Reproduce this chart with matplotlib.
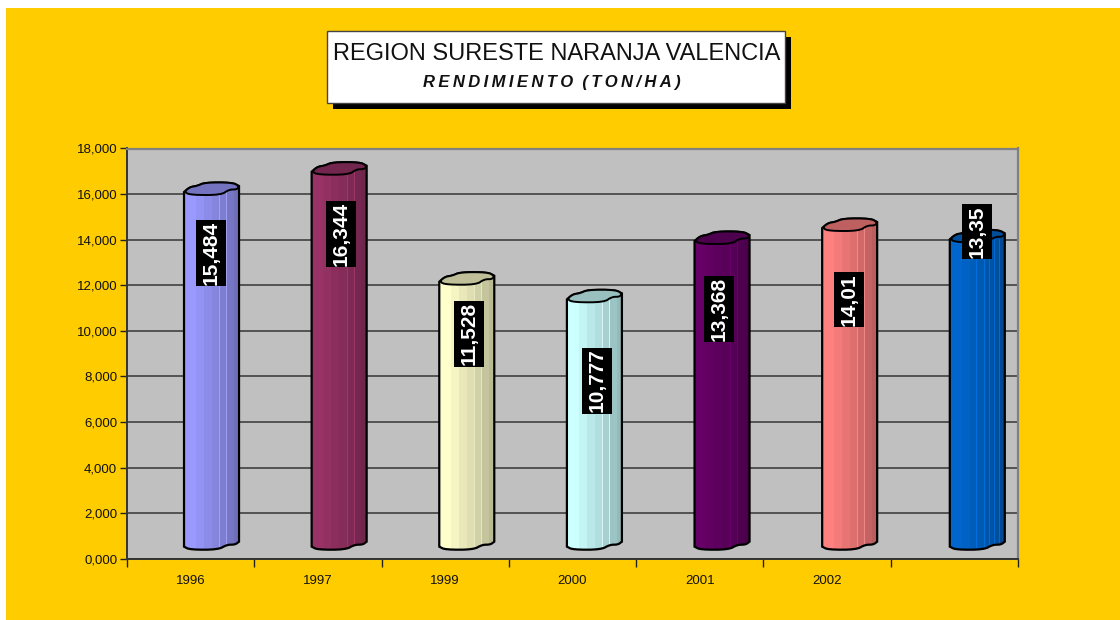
import matplotlib
matplotlib.use("Agg")
import matplotlib.pyplot as plt
from matplotlib.patches import Polygon, Rectangle
from matplotlib.colors import to_rgb

plt.rcParams['font.family'] = ['Liberation Sans', 'DejaVu Sans']

categories = ['1996', '1997', '1999', '2000', '2001', '2002', '']
bar_tops = [16091, 16982, 12155, 11383, 13941, 14512, 14016]
value_labels = ['15,484', '16,344', '11,528', '10,777', '13,368', '14,01', '13,35']
label_centers = [13434, 14268, 9878, 7815, 10976, 11371, 14356]
label_shift = [0.16, 0.185, 0.19, 0.196, 0.15, 0.17, 0.177]
bar_colors = ['#9999FF', '#993366', '#FFFFCC', '#CCFFFF', '#660066', '#FF8080', '#0066CC']
y_ticks = [0, 2000, 4000, 6000, 8000, 10000, 12000, 14000, 16000, 18000]
y_tick_labels = ['0,000', '2,000', '4,000', '6,000', '8,000', '10,000', '12,000', '14,000', '16,000', '18,000']
floor = 440

W, H = 1120, 620
fig = plt.figure(figsize=(W / 100, H / 100), dpi=100, facecolor='white')

# yellow chart area
fig.add_artist(Rectangle((6 / W, 0), (W - 6) / W, (H - 8) / H, transform=fig.transFigure,
                         fc='#FFCC00', ec='none', zorder=-5))

L, R, T, B = 127, 1018, 148.5, 558.7
ax = fig.add_axes([L / W, 1 - B / H, (R - L) / W, (B - T) / H], facecolor='#C0C0C0')
ax.set_xlim(-0.5, 6.5)
ax.set_ylim(0, 18000)
ux = 7 / (R - L)
uy = 18000 / (B - T)

ax.set_yticks(y_ticks, y_tick_labels, fontsize=9.5, color='#111111')
ax.set_xticks([i - 0.5 for i in range(8)], [''] * 8)
ax.set_xticks(range(7), categories, minor=True, fontsize=9.5, color='#111111')
ax.tick_params(axis='x', which='minor', length=0, pad=12)
ax.tick_params(axis='x', which='major', length=6, width=1, color='#222222')
ax.tick_params(axis='y', length=5, width=1, color='#222222', pad=2)
ax.grid(axis='y', color='#404040', lw=1.2, zorder=1)
ax.set_axisbelow(True)
for s in ('top', 'right'):
    ax.spines[s].set(color='#808080', lw=1.6)
for s in ('left', 'bottom'):
    ax.spines[s].set(color='#333333', lw=1.4)


def shade(c, f):
    return tuple(min(1, v * f) for v in to_rgb(c))


def smooth(points, rounds=2):
    """Corner cutting, so that the wavy cylinder outline looks hand-drawn and round."""
    for _ in range(rounds):
        out = []
        for j, (a, b) in enumerate(points):
            c, d = points[(j + 1) % len(points)]
            out += [(0.75 * a + 0.25 * c, 0.75 * b + 0.25 * d), (0.25 * a + 0.75 * c, 0.25 * b + 0.75 * d)]
        points = out
    return points


# pixel outline offsets of the cylinder (relative to left edge / front top or bottom)
cap_pts = [(0, 0), (6, -5), (13, -6), (21, -9.5), (48, -9.5), (55, -6), (53, -2.5), (45, -2.5),
           (37, 3), (7, 3)]
top_pts = [(0, 0), (0, 0), (6, -5), (13, -6), (21, -9.5), (48, -9.5), (55, -6), (55, -6)]
bottom_pts = [(55, -7), (55, -7), (51, -4), (43, -4), (34, 1), (6, 1), (0, -2), (0, -2)]
strip_edges = [0, 12, 20, 28, 36, 43, 50, 56]
strip_f = [1.0, 0.96, 0.91, 0.87, 0.82, 0.77, 0.73]

for i, (top, col) in enumerate(zip(bar_tops, bar_colors)):
    x0 = i - 0.052 + i * 0.0027

    def pt(px, py, base):
        return (x0 + px * ux, base - py * uy)

    sil = smooth([pt(a, b, top) for a, b in top_pts] + [pt(a, b, floor) for a, b in bottom_pts])
    clip = Polygon(sil, closed=True, transform=ax.transData, fc='none', ec='none')
    ax.add_patch(clip)
    for k in range(len(strip_f)):
        a, b = strip_edges[k], strip_edges[k + 1]
        bars = ax.bar(x0 + (a + b) / 2 * ux, top + 12 * uy - floor + 8 * uy, width=(b - a + 0.6) * ux,
                      bottom=floor - 4 * uy, color=[shade(col, strip_f[k])], lw=0, zorder=3, align='center')
        for p in bars:
            p.set_clip_path(clip)
    for lx in ((35, 42) if i < 6 else (26, 34, 39, 44, 49)):
        ln, = ax.plot([x0 + lx * ux] * 2, [floor, top], color=shade(col, 1.15) if i != 2 else '#EEEECC',
                      lw=0.7, alpha=0.7, zorder=3.5)
        ln.set_clip_path(clip)
    ax.add_patch(Polygon(sil, closed=True, fc='none', ec='black', lw=1.6, zorder=4))
    ax.add_patch(Polygon(smooth([pt(a, b, top) for a, b in cap_pts]), closed=True,
                         fc=shade(col, 0.75), ec='black', lw=1.4, zorder=4.5))

for i, (txt, yc) in enumerate(zip(value_labels, label_centers)):
    xc = i + label_shift[i]
    box_w = 30 * ux
    box_h = 11 * len(txt) * uy
    ax.add_patch(Rectangle((xc - box_w / 2, yc - box_h / 2), box_w, box_h, fc='black', ec='none',
                           zorder=5.5, clip_on=False))
    ax.text(xc, yc, txt, rotation=90, ha='center', va='center', color='white',
            fontsize=15, fontweight='bold', zorder=6, clip_on=False)

# title box with shadow
fig.add_artist(Rectangle((333 / W, 1 - 109 / H), 458 / W, 72 / H, transform=fig.transFigure,
                         fc='black', ec='none'))
fig.add_artist(Rectangle((326.5 / W, 1 - 102.5 / H), 458 / W, 72 / H, transform=fig.transFigure,
                         fc='white', ec='#444444', lw=1))
fig.text(557 / W, 1 - 54 / H, 'REGION SURESTE NARANJA VALENCIA', ha='center', va='center',
         fontsize=17, color='#111111')
fig.text(552 / W, 1 - 83 / H, 'R\u2009E\u2009N\u2009D\u2009I\u2009M\u2009I\u2009E\u2009N\u2009T\u2009O  (\u2009T\u2009O\u2009N\u2009/\u2009H\u2009A\u2009)',
         ha='center', va='center', fontsize=12, fontweight='bold', fontstyle='italic', color='#111111')

fig.savefig('out.png', dpi=100, facecolor='white')
